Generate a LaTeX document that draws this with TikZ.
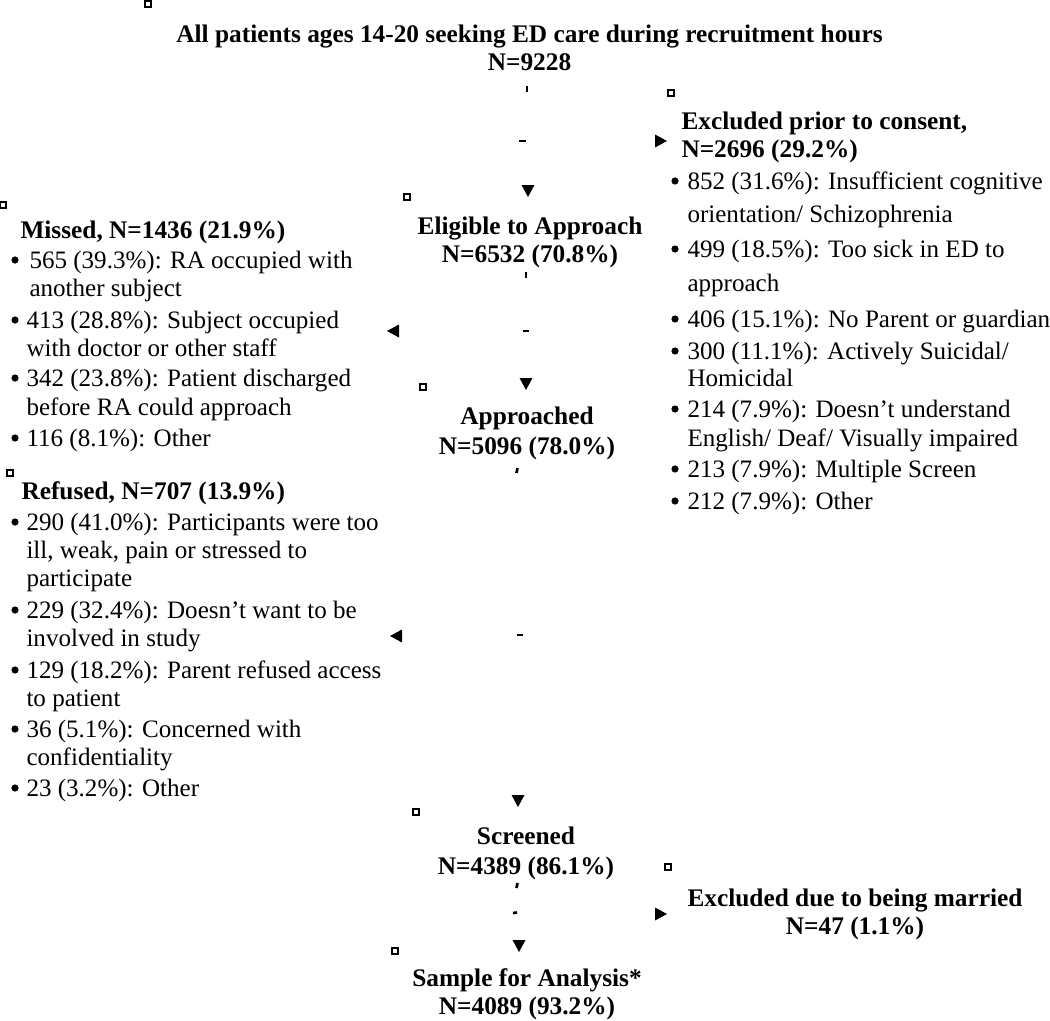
\documentclass[tikz,border=0pt]{standalone}
\usepackage{fontspec}
\setmainfont{Liberation Serif}

\tikzset{every picture/.style={line width=0.75pt}}
\tikzset{
  head/.style={font=\fontsize{19}{22}\selectfont\bfseries, inner sep=0.75pt},
  item/.style={font=\fontsize{18.8}{22}\selectfont, inner sep=0.75pt, anchor=base west},
  tri/.pic={\fill (0,0) -- (-12,-6.5) -- (-12,6.5) -- cycle;},
  mark/.pic={\draw [line width=1.6] (-2.6,-2.6) rectangle (2.6,2.6);},
  dot/.pic={\fill (0,0) circle (3.6);}
}

\begin{document}
\begin{tikzpicture}[x=0.75pt,y=0.75pt,yscale=-1,xscale=1]
\useasboundingbox (0,0) rectangle (1050,1021);

% Text Node
\draw (529.5,42) node [head, anchor=base] (all) {All patients ages 14-20 seeking ED care during recruitment hours};
\draw (529.5,70) node [head, anchor=base] (alln) {N=9228};
% Text Node
\draw (530,234) node [head, anchor=base] (elig) {Eligible to Approach};
\draw (530,262) node [head, anchor=base] (elign) {N=6532 (70.8\%)};
% Text Node
\draw (527,424) node [head, anchor=base] (appr) {Approached};
\draw (527,454) node [head, anchor=base] (apprn) {N=5096 (78.0\%)};
% Text Node
\draw (526,844) node [head, anchor=base] (scr) {Screened};
\draw (526,874) node [head, anchor=base] (scrn) {N=4389 (86.1\%)};
% Text Node
\draw (527,986) node [head, anchor=base] (samp) {Sample for Analysis*};
\draw (527,1014) node [head, anchor=base] (sampn) {N=4089 (93.2\%)};
% Text Node
\draw (855,906) node [head, anchor=base] (marr) {Excluded due to being married};
\draw (855,934) node [head, anchor=base] (marrn) {N=47 (1.1\%)};

% Text Node
\draw (680,129) node [head, anchor=base west] (excl) {Excluded prior to consent,};
\draw (680,157) node [head, anchor=base west] (excln) {N=2696 (29.2\%)};
\draw (686,189) node [item] (ex1) {852 (31.6\%): Insufficient cognitive};
\draw (686,222) node [item] (ex1b) {orientation/ Schizophrenia};
\draw (686,257) node [item] (ex2) {499 (18.5\%): Too sick in ED to};
\draw (686,291) node [item] (ex2b) {approach};
\draw (686,327) node [item] (ex3) {406 (15.1\%): No Parent or guardian};
\draw (686,359) node [item] (ex4) {300 (11.1\%): Actively Suicidal/};
\draw (686,386) node [item] (ex4b) {Homicidal};
\draw (686,417) node [item] (ex5) {214 (7.9\%): Doesn’t understand};
\draw (686,446) node [item] (ex5b) {English/ Deaf/ Visually impaired};
\draw (686,477) node [item] (ex6) {213 (7.9\%): Multiple Screen};
\draw (686,509) node [item] (ex7) {212 (7.9\%): Other};

% Text Node
\draw (19,238) node [head, anchor=base west] (miss) {Missed, N=1436 (21.9\%)};
\draw (28,268) node [item] (mi1) {565 (39.3\%): RA occupied with};
\draw (28,296) node [item] (mi1b) {another subject};
\draw (25,328) node [item] (mi2) {413 (28.8\%): Subject occupied};
\draw (25,356) node [item] (mi2b) {with doctor or other staff};
\draw (25,386) node [item] (mi3) {342 (23.8\%): Patient discharged};
\draw (25,415) node [item] (mi3b) {before RA could approach};
\draw (25,446) node [item] (mi4) {116 (8.1\%): Other};

% Text Node
\draw (20,499) node [head, anchor=base west] (ref) {Refused, N=707 (13.9\%)};
\draw (25,530) node [item] (re1) {290 (41.0\%): Participants were too};
\draw (25,558) node [item] (re1b) {ill, weak, pain or stressed to};
\draw (25,586) node [item] (re1c) {participate};
\draw (25,618) node [item] (re2) {229 (32.4\%): Doesn’t want to be};
\draw (25,646) node [item] (re2b) {involved in study};
\draw (25,678) node [item] (re3) {129 (18.2\%): Parent refused access};
\draw (25,706) node [item] (re3b) {to patient};
\draw (25,737) node [item] (re4) {36 (5.1\%): Concerned with};
\draw (25,765) node [item] (re4b) {confidentiality};
\draw (25,796) node [item] (re5) {23 (3.2\%): Other};

% Bullets
\foreach \yy in {181,249,319,351,409,469,501} \pic at (675,\yy) {dot};
\foreach \yy in {260,320,378,438,522,610,670,729,788} \pic at (15,\yy) {dot};

% Arrow heads
\pic [rotate=-90] at (528,197) {tri};
\pic at (667,141) {tri};
\pic [rotate=180] at (387,331) {tri};
\pic [rotate=-90] at (526,390) {tri};
\pic [rotate=180] at (390,636) {tri};
\pic [rotate=-90] at (518,807) {tri};
\pic at (667,914) {tri};
\pic [rotate=-90] at (519,952) {tri};

% Corner marks
\pic at (148,4) {mark};
\pic at (407,197) {mark};
\pic at (671,93) {mark};
\pic at (3,205) {mark};
\pic at (10,473) {mark};
\pic at (423,387) {mark};
\pic at (416,812) {mark};
\pic at (668,867) {mark};
\pic at (395,951) {mark};

% Line stubs
\draw [line width=2] (527,86) -- (527,92);
\draw [line width=2] (519,141) -- (526,141);
\draw [line width=2] (526,272) -- (526,278);
\draw [line width=2] (523,331) -- (529,331);
\draw [line width=2] (517.5,468) -- (516.5,473);
\draw [line width=2] (517,635) -- (523,635);
\draw [line width=2] (517.5,883) -- (516.5,888);
\draw [line width=2] (513,913) -- (517,912.5);

\end{tikzpicture}
\end{document}
